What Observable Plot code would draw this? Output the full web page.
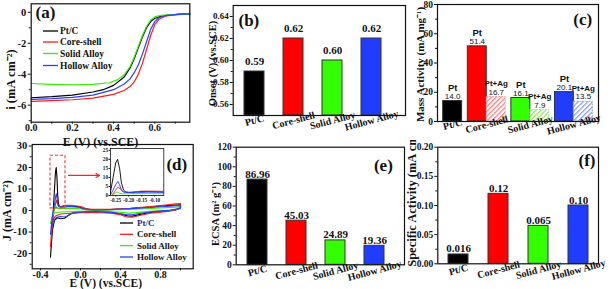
<!DOCTYPE html>
<html><head><meta charset="utf-8">
<script src="https://cdn.jsdelivr.net/npm/d3@7"></script>
<script src="https://cdn.jsdelivr.net/npm/@observablehq/plot@0.6"></script>
<style>
body{margin:0;background:#fff;}
#wrap{position:relative;width:614px;height:289px;overflow:hidden;background:#fff;}
.panel{position:absolute;}
.panel svg{display:block;}
</style></head><body>
<svg width="0" height="0" style="position:absolute">
<defs>
<pattern id="hatchRed" patternUnits="userSpaceOnUse" width="3.4" height="3.4" patternTransform="rotate(45)">
<rect width="3.4" height="3.4" fill="#fff"/><line x1="0.6" y1="0" x2="0.6" y2="3.4" stroke="#ff7c7c" stroke-width="1.3"/></pattern>
<pattern id="hatchGreen" patternUnits="userSpaceOnUse" width="3.4" height="3.4" patternTransform="rotate(45)">
<rect width="3.4" height="3.4" fill="#fff"/><line x1="0.6" y1="0" x2="0.6" y2="3.4" stroke="#8ee860" stroke-width="1.3"/></pattern>
<pattern id="hatchBlue" patternUnits="userSpaceOnUse" width="3.4" height="3.4" patternTransform="rotate(45)">
<rect width="3.4" height="3.4" fill="#fff"/><line x1="0.6" y1="0" x2="0.6" y2="3.4" stroke="#8a9ee8" stroke-width="1.3"/></pattern>
</defs></svg>
<div id="wrap"></div>
<script>
// ---------------- data ----------------
const categories = ["Pt/C", "Core-shell", "Solid Alloy", "Hollow Alloy"];
const onsetV = [0.59, 0.62, 0.60, 0.62];
const onsetLabels = ["0.59", "0.62", "0.60", "0.62"];
const massPt = [14.0, 51.4, 16.1, 20.1];
const massPtAg = [null, 16.7, 7.9, 13.5];
const ecsa = [86.96, 45.03, 24.89, 19.36];
const ecsaLabels = ["86.96", "45.03", "24.89", "19.36"];
const specAct = [0.016, 0.12, 0.065, 0.10];
const specLabels = ["0.016", "0.12", "0.065", "0.10"];

// (a) ORR polarization curves [E (V), i (mA cm-2)]
const lsvPtC = [[0,-5.52],[0.1,-5.45],[0.2,-5.35],[0.3,-5.15],[0.35,-5.0],[0.4,-4.72],[0.45,-4.2],[0.48,-3.6],[0.5,-3.0],[0.52,-2.3],[0.54,-1.6],[0.56,-1.0],[0.58,-0.6],[0.6,-0.4],[0.63,-0.25],[0.67,-0.18],[0.72,-0.12],[0.77,-0.1]];
const lsvCore = [[0,-5.75],[0.1,-5.7],[0.2,-5.65],[0.3,-5.55],[0.4,-5.3],[0.45,-5.05],[0.48,-4.8],[0.5,-4.5],[0.52,-4.0],[0.54,-3.3],[0.56,-2.4],[0.58,-1.5],[0.6,-0.8],[0.62,-0.45],[0.65,-0.25],[0.7,-0.15],[0.77,-0.1]];
const lsvSolid = [[0,-4.6],[0.1,-4.65],[0.2,-4.68],[0.3,-4.65],[0.38,-4.55],[0.42,-4.35],[0.45,-4.05],[0.48,-3.5],[0.5,-2.9],[0.52,-2.2],[0.54,-1.5],[0.56,-0.9],[0.58,-0.5],[0.6,-0.3],[0.63,-0.2],[0.67,-0.16],[0.72,-0.13],[0.77,-0.12]];
const lsvHollow = [[0,-5.63],[0.1,-5.58],[0.2,-5.5],[0.3,-5.35],[0.4,-5.0],[0.45,-4.65],[0.48,-4.3],[0.5,-3.9],[0.52,-3.4],[0.54,-2.7],[0.56,-1.9],[0.58,-1.1],[0.6,-0.6],[0.62,-0.35],[0.65,-0.22],[0.7,-0.15],[0.77,-0.1]];

// (d) cyclic voltammograms [E (V), J (mA cm-2)], one closed loop each
const cvPtC = [[-0.30,-21.7],[-0.29,-15],[-0.28,-6],[-0.27,2],[-0.26,10],[-0.25,18],[-0.243,20],[-0.235,15],[-0.228,7],[-0.22,3],[-0.21,1.8],[-0.19,1.6],[-0.16,2.2],[-0.12,2.2],[-0.08,2.0],[-0.02,1.8],[0.02,1.0],[0.06,0.4],[0.15,0.2],[0.3,0.4],[0.45,0.8],[0.6,1.3],[0.75,1.9],[0.9,2.4],[1.0,2.7],
  [1.0,1.2],[0.95,0.3],[0.85,-0.3],[0.7,-0.9],[0.6,-1.8],[0.52,-2.6],[0.47,-2.5],[0.4,-1.6],[0.3,-0.9],[0.2,-0.6],[0.1,-0.6],[0.0,-0.8],[-0.08,-1.2],[-0.12,-2.2],[-0.16,-3.6],[-0.2,-3.8],[-0.23,-3.4],[-0.26,-4.5],[-0.28,-9],[-0.295,-18],[-0.30,-21.7]];
const cvCore = [[-0.30,-16.8],[-0.29,-10],[-0.28,-4],[-0.265,0],[-0.25,3],[-0.24,4.8],[-0.232,3.5],[-0.22,2.2],[-0.2,1.8],[-0.15,2.4],[-0.1,2.4],[-0.05,2.2],[0.0,1.9],[0.05,1.0],[0.1,0.6],[0.3,0.6],[0.5,1.0],[0.7,1.8],[0.85,2.6],[0.95,3.1],[1.0,3.3],
  [1.0,1.5],[0.95,0.2],[0.85,-0.5],[0.7,-1.2],[0.6,-2.2],[0.52,-3.1],[0.46,-3.0],[0.4,-2.0],[0.3,-1.2],[0.15,-0.9],[0.0,-1.0],[-0.1,-1.3],[-0.2,-1.6],[-0.25,-2.5],[-0.27,-4],[-0.285,-9],[-0.30,-16.8]];
const cvSolid = [[-0.30,-6],[-0.28,-2],[-0.26,0.5],[-0.245,2.0],[-0.235,1.2],[-0.22,0.9],[-0.15,1.0],[-0.05,1.0],[0.05,0.5],[0.2,0.3],[0.4,0.4],[0.6,0.7],[0.8,1.2],[0.95,1.6],[1.0,1.8],
  [1.0,0.8],[0.9,0.1],[0.7,-0.4],[0.55,-1.0],[0.48,-1.2],[0.4,-0.8],[0.2,-0.3],[0.0,-0.4],[-0.15,-0.6],[-0.25,-0.9],[-0.28,-2],[-0.30,-6]];
const cvHollow = [[-0.30,-11],[-0.29,-6],[-0.275,-1],[-0.26,3],[-0.25,6],[-0.242,7.8],[-0.235,6],[-0.228,3],[-0.22,1.8],[-0.18,1.5],[-0.13,1.8],[-0.08,1.8],[-0.02,1.5],[0.04,0.7],[0.15,0.3],[0.3,0.5],[0.5,0.9],[0.7,1.4],[0.85,1.9],[1.0,2.3],
  [1.0,1.0],[0.9,0.2],[0.75,-0.4],[0.6,-1.3],[0.52,-2.0],[0.45,-1.9],[0.35,-1.0],[0.2,-0.5],[0.05,-0.5],[-0.05,-0.9],[-0.1,-1.6],[-0.13,-2.6],[-0.16,-3.0],[-0.2,-2.8],[-0.24,-3.2],[-0.27,-5],[-0.29,-8],[-0.30,-11]];

// annotation in (d): zoomed window and arrow
const zoomBox = [{E1: -0.30, E2: -0.15, J1: 1, J2: 25.5}];
const zoomArrow = [{E1: -0.12, E2: 0.19, J: 16.3}];

// axis tick values
const ticksA_x = [0, 0.2, 0.4, 0.6], minorA_x = [0.1, 0.3, 0.5, 0.7];
const ticksA_y = [0, -2, -4, -6], minorA_y = [-1, -3, -5, -7];
const ticksB_y = [0.56, 0.58, 0.60, 0.62, 0.64], minorB_y = [0.57, 0.59, 0.61, 0.63];
const ticksC_y = [0, 20, 40, 60, 80], minorC_y = [10, 30, 50, 70];
const ticksD_x = [-0.4, 0, 0.4, 0.8], minorD_x = [-0.2, 0.2, 0.6, 1.0];
const ticksD_y = [-20, -10, 0, 10, 20, 30], minorD_y = [-25, -15, -5, 5, 15, 25];
const ticksIn_x = [-0.25, -0.20, -0.15, -0.10], ticksIn_y = [0, 5, 10, 15, 20, 25];
const ticksE_y = [0, 20, 40, 60, 80, 100, 120], minorE_y = [10, 30, 50, 70, 90, 110];
const ticksF_y = [0, 0.05, 0.10, 0.15, 0.20], minorF_y = [0.025, 0.075, 0.125, 0.175];

// ---------------- styles ----------------
const SERIF = "'Liberation Serif','Times New Roman',Times,serif";
const SANS = "'Liberation Sans',Arial,Helvetica,sans-serif";
const INK = "#111";
const seriesColors = ["#000000", "#ff1a1a", "#33ee00", "#2244ff"];
const barColors = ["#000000", "#ff0000", "#33ff00", "#1f3cff"];
const hatchFills = [null, "url(#hatchRed)", "url(#hatchGreen)", "url(#hatchBlue)"];
const hatchStrokes = [null, "#ff9a9a", "#a8e890", "#9aaae0"];

const wrap = document.getElementById("wrap");
function place(svg, left, top, overflow) {
  const d = document.createElement("div");
  d.className = "panel"; d.style.left = left + "px"; d.style.top = top + "px";
  svg.style.overflow = overflow || "visible";
  d.appendChild(svg); wrap.appendChild(d); return svg;
}
function base(w, h, ml, mr, mt, mb) {
  return {width: w, height: h, marginLeft: ml, marginRight: mr, marginTop: mt, marginBottom: mb,
    style: {background: "transparent", overflow: "visible", fontFamily: SERIF, fontWeight: "bold", fontSize: "10px", color: INK}};
}
const yTitle = (t, dx, dy, fs) => Plot.text([t], {text: d => d, frameAnchor: "left", textAnchor: "middle", lineAnchor: "middle", rotate: -90, dx, dy, fontSize: fs});
const xTitle = (t, dx, dy, fs) => Plot.text([t], {text: d => d, frameAnchor: "bottom", textAnchor: "middle", lineAnchor: "middle", dx, dy, fontSize: fs});
const tag = (t, anchor, dx, dy) => Plot.text([t], {text: d => d, frameAnchor: anchor, textAnchor: anchor.endsWith("left") ? "start" : "end", lineAnchor: "top", dx, dy, fontSize: 17});
const minorX = (v) => Plot.axisX({ticks: v, tickSize: 2, tickFormat: () => "", label: null});
const minorY = (v) => Plot.axisY({ticks: v, tickSize: 2, tickFormat: () => "", label: null});

function addLegend(svg, x0, x1, xt, ys, fs, textColors) {
  const g = d3.select(svg).append("g").attr("font-family", SERIF).attr("font-weight", "bold")
    .attr("font-size", fs).attr("text-anchor", "start");
  categories.forEach((name, k) => {
    g.append("line").attr("x1", x0).attr("x2", x1).attr("y1", ys[k]).attr("y2", ys[k])
      .attr("stroke", seriesColors[k]).attr("stroke-width", 1.3);
    g.append("text").attr("x", xt).attr("y", ys[k]).attr("dy", "0.35em").attr("text-anchor", "start")
      .attr("fill", textColors ? textColors[k] : INK).text(name);
  });
}

// ---------------- (a) ----------------
const lsvRows = [lsvPtC, lsvCore, lsvSolid, lsvHollow].flatMap((pts, k) => pts.map(([E, i]) => ({E, i, name: categories[k]})));
const svgA = Plot.plot({...base(205, 140, 30.7, 15.7, 3.3, 18.3),
  x: {domain: [0, 0.77]}, y: {domain: [-7.1, 0.55]},
  color: {domain: categories, range: seriesColors},
  marks: [
    Plot.line(lsvRows, {x: "E", y: "i", z: "name", stroke: "name", strokeWidth: 1.2}),
    Plot.frame({stroke: INK, strokeWidth: 1.2}),
    Plot.axisX({ticks: ticksA_x, tickFormat: d => d.toFixed(1), tickSize: 2, tickPadding: 0, label: null, fontSize: 10}),
    minorX(minorA_x),
    Plot.axisY({ticks: ticksA_y, tickFormat: d => String(d), tickSize: 3, tickPadding: 2, label: null, fontSize: 10.5}),
    minorY(minorA_y),
    yTitle("i (mA cm\u207B\u00B2)", -20.7, 16.5, 12.5),
    xTitle("E (V) (vs.SCE)", -10, 19.5, 12),
    tag("(a)", "top-left", 4.3, 2)
  ]});
place(svgA, 0, 0);
addLegend(svgA, 43, 58, 60, [31, 42, 53.5, 65.5], 9.5);

// ---------------- (b) ----------------
const tableB = categories.map((c, k) => ({cat: c, v: onsetV[k], lab: onsetLabels[k], fill: barColors[k]}));
const svgB = Plot.plot({...base(209, 140, 27.7, 9, 5, 25),
  x: {domain: categories, paddingInner: 0.5, paddingOuter: 0.25, insetRight: 14},
  y: {domain: [0.55, 0.65]},
  color: {type: "identity"},
  marks: [
    Plot.barY(tableB, {x: "cat", y1: 0.55, y2: "v", fill: "fill", stroke: "#333", strokeWidth: 1}),
    Plot.text(tableB, {x: "cat", y: "v", text: "lab", lineAnchor: "bottom", dy: -7, fontSize: 11}),
    Plot.frame({stroke: INK, strokeWidth: 1.2}),
    Plot.axisX({tickSize: 0, tickPadding: 5, tickRotate: -15, textAnchor: "middle", label: null, fontSize: 10}),
    Plot.axisY({ticks: ticksB_y, tickFormat: d => d.toFixed(2), tickSize: 3, tickPadding: 1.5, label: null, fontSize: 9}),
    minorY(minorB_y),
    yTitle("Onset (V) (vs.SCE)", -21, 3, 10.5),
    tag("(b)", "top-left", 5.3, 8)
  ]});
place(svgB, 205, 0);

// ---------------- (c) ----------------
const padC = 0.3, barW = 1;
const groupStart = [];
let cursor = padC;
categories.forEach((c, k) => { groupStart.push(cursor); cursor += (massPtAg[k] == null ? 1 : 2) * barW + padC; });
const xMaxC = cursor;
const groupCenter = categories.map((c, k) => groupStart[k] + (massPtAg[k] == null ? 1 : 2) * barW / 2);
const barsPt = categories.map((c, k) => ({x1: groupStart[k], x2: groupStart[k] + barW, v: massPt[k], fill: barColors[k], lab: "Pt", val: massPt[k].toFixed(1)}));
const barsPtAg = categories.flatMap((c, k) => massPtAg[k] == null ? [] :
  [{x1: groupStart[k] + barW, x2: groupStart[k] + 2 * barW, v: massPtAg[k], fill: hatchFills[k], stroke: hatchStrokes[k], lab: "Pt+Ag", val: massPtAg[k].toFixed(1)}]);
const barsAll = barsPt.concat(barsPtAg);
const svgC = Plot.plot({...base(209, 140, 32, 16, 4, 19),
  x: {domain: [0, xMaxC]}, y: {domain: [0, 80]},
  color: {type: "identity"},
  marks: [
    Plot.rect(barsPt, {x1: "x1", x2: "x2", y1: 0, y2: "v", fill: "fill", stroke: "#333", strokeWidth: 1}),
    Plot.rect(barsPtAg, {x1: "x1", x2: "x2", y1: 0, y2: "v", fill: "fill", stroke: "stroke", strokeWidth: 1, strokeDasharray: "2,1"}),
    Plot.text(barsAll, {x: d => (d.x1 + d.x2) / 2, y: "v", text: "val", dy: -5, fontFamily: SANS, fontWeight: "normal", fontSize: 8}),
    Plot.text(barsAll, {x: d => (d.x1 + d.x2) / 2, y: "v", text: "lab", dy: -13.5, fontFamily: SANS, fontWeight: "bold", fontSize: d => d.lab === "Pt" ? 9.5 : 8}),
    Plot.frame({stroke: INK, strokeWidth: 1.2}),
    Plot.axisX({ticks: groupCenter, tickFormat: d => categories[groupCenter.indexOf(d)], tickSize: 0, tickPadding: 3, tickRotate: -15, textAnchor: "middle", label: null, fontSize: 10}),
    Plot.axisY({ticks: ticksC_y, tickFormat: d => String(d), tickSize: 3, tickPadding: 1.5, label: null, fontSize: 9.5}),
    minorY(minorC_y),
    yTitle("Mass Activity (mA mg\u207B\u00B9)", -17, 1.5, 11),
    tag("(c)", "top-right", -6.3, 8)
  ]});
place(svgC, 405, 0);

// ---------------- (d) ----------------
const cvRows = [cvPtC, cvCore, cvSolid, cvHollow].flatMap((pts, k) => pts.map(([E, J]) => ({E, J, name: categories[k]})));
const svgD = Plot.plot({...base(205, 149, 31.7, 12.3, 4, 20.7),
  x: {domain: [-0.483, 1.127]}, y: {domain: [-27.1, 30.7]},
  color: {domain: categories, range: seriesColors},
  marks: [
    Plot.line(cvRows, {x: "E", y: "J", z: "name", stroke: "name", strokeWidth: 1.1}),
    Plot.rect(zoomBox, {x1: "E1", x2: "E2", y1: "J1", y2: "J2", fill: "none", stroke: "#ff3030", strokeWidth: 1.1, strokeDasharray: "3,2"}),
    Plot.arrow(zoomArrow, {x1: "E1", y1: "J", x2: "E2", y2: "J", stroke: "#ff2020", strokeWidth: 1.2, headLength: 5}),
    Plot.frame({stroke: INK, strokeWidth: 1.2}),
    Plot.axisX({ticks: ticksD_x, tickFormat: d => d.toFixed(1), tickSize: 2, tickPadding: 0, label: null, fontSize: 10}),
    minorX(minorD_x),
    Plot.axisY({ticks: ticksD_y, tickFormat: d => String(d), tickSize: 3, tickPadding: 2, label: null, fontSize: 10.5}),
    minorY(minorD_y),
    yTitle("J (mA cm\u207B\u00B2)", -24.7, 4, 12),
    xTitle("E (V) (vs.SCE)", -7, 15, 11.5),
    tag("(d)", "top-right", -6, 13)
  ]});
place(svgD, 0, 140);
addLegend(svgD, 120, 133, 137, [83, 94.3, 105.6, 117], 9, ["#1c2a8a", INK, INK, INK]);

// inset of (d)
const svgIn = Plot.plot({...base(75, 62, 15, 6.7, 4, 11),
  x: {domain: [-0.27, -0.065]}, y: {domain: [0, 26]},
  color: {domain: categories, range: seriesColors},
  marks: [
    Plot.frame({fill: "#fff", stroke: "none"}),
    Plot.line(cvRows, {x: "E", y: "J", z: "name", stroke: "name", strokeWidth: 0.9, clip: true}),
    Plot.frame({stroke: INK, strokeWidth: 0.8}),
    Plot.axisX({ticks: ticksIn_x, tickFormat: d => d.toFixed(2), tickSize: 1.5, tickPadding: 1, label: null, fontSize: 5.2}),
    Plot.axisY({ticks: ticksIn_y, tickFormat: d => String(d), tickSize: 1.5, tickPadding: 1, label: null, fontSize: 5.2})
  ]});
place(svgIn, 95, 144);

// ---------------- (e) ----------------
const tableE = categories.map((c, k) => ({cat: c, v: ecsa[k], lab: ecsaLabels[k], fill: barColors[k]}));
const svgE = Plot.plot({...base(209, 149, 30.7, 10, 6.7, 24.7),
  x: {domain: categories, paddingInner: 0.5, paddingOuter: 0.25, insetRight: 10},
  y: {domain: [0, 120]},
  color: {type: "identity"},
  marks: [
    Plot.barY(tableE, {x: "cat", y1: 0, y2: "v", fill: "fill", stroke: "#333", strokeWidth: 1}),
    Plot.text(tableE, {x: "cat", y: "v", text: "lab", lineAnchor: "bottom", dy: -2, fontSize: 11}),
    Plot.frame({stroke: INK, strokeWidth: 1.2}),
    Plot.axisX({tickSize: 0, tickPadding: 6, tickRotate: -15, textAnchor: "middle", label: null, fontSize: 10}),
    Plot.axisY({ticks: ticksE_y, tickFormat: d => String(d), tickSize: 3, tickPadding: 1.5, label: null, fontSize: 9.5}),
    minorY(minorE_y),
    yTitle("ECSA (m\u00B2 g\u207B\u00B9)", -20.7, 8, 10.5),
    tag("(e)", "top-right", -11.7, 11.6)
  ]});
place(svgE, 205, 140);

// ---------------- (f) ----------------
const tableF = categories.map((c, k) => ({cat: c, v: specAct[k], lab: specLabels[k], fill: barColors[k]}));
const svgF = Plot.plot({...base(209, 149, 32.3, 16, 6.7, 25.7),
  x: {domain: categories, paddingInner: 0.5, paddingOuter: 0.25},
  y: {domain: [0, 0.20]},
  color: {type: "identity"},
  marks: [
    Plot.barY(tableF, {x: "cat", y1: 0, y2: "v", fill: "fill", stroke: "#333", strokeWidth: 1}),
    Plot.text(tableF, {x: "cat", y: "v", text: "lab", lineAnchor: "bottom", dy: -2, fontSize: 11}),
    Plot.frame({stroke: INK, strokeWidth: 1.2}),
    Plot.axisX({tickSize: 0, tickPadding: 6, tickRotate: -15, textAnchor: "middle", label: null, fontSize: 10}),
    Plot.axisY({ticks: ticksF_y, tickFormat: d => d.toFixed(2), tickSize: 3, tickPadding: 1.5, label: null, fontSize: 9.5}),
    minorY(minorF_y),
    Plot.text(["Specific Activity (mA cm\u207B\u00B2)"], {text: d => d, frameAnchor: "bottom-left", rotate: -90, textAnchor: "start", lineAnchor: "middle", dx: -26.3, dy: 3, fontSize: 12.5}),
    tag("(f)", "top-right", -3, 6.7)
  ]});
place(svgF, 405, 140, "hidden");
</script>
</body></html>
